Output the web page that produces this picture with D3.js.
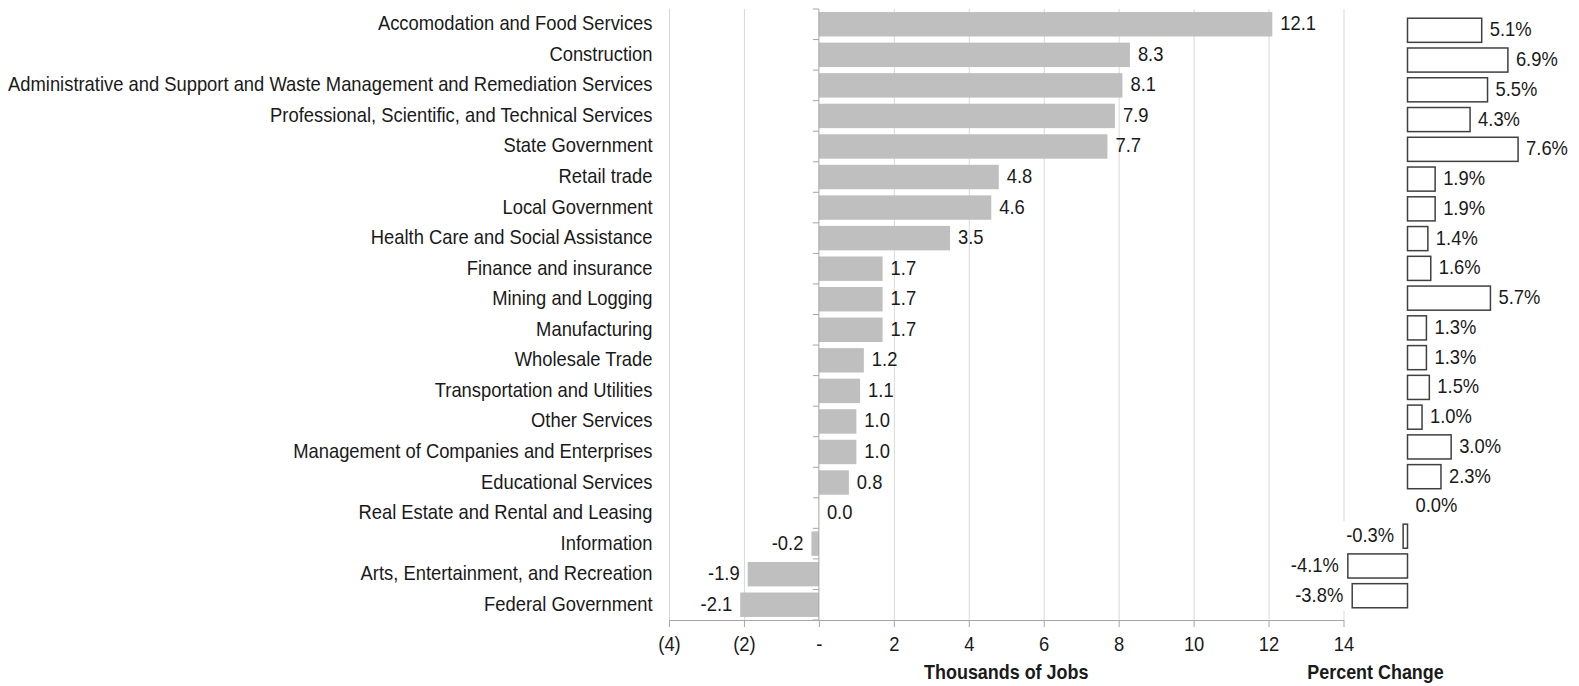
<!DOCTYPE html>
<html><head><meta charset="utf-8">
<script src="https://cdn.jsdelivr.net/npm/d3@7"></script>
<style>
html,body{margin:0;padding:0;background:#fff;}
svg{display:block;}
text{font-family:"Liberation Sans",Arial,sans-serif;fill:#1a1a1a;}
</style></head><body>
<svg id="chart" width="1579" height="686"></svg>
<script>
const categories = [
  "Accomodation and Food Services",
  "Construction",
  "Administrative and Support and Waste Management and Remediation Services",
  "Professional, Scientific, and Technical Services",
  "State Government",
  "Retail trade",
  "Local Government",
  "Health Care and Social Assistance",
  "Finance and insurance",
  "Mining and Logging",
  "Manufacturing",
  "Wholesale Trade",
  "Transportation and Utilities",
  "Other Services",
  "Management of Companies and Enterprises",
  "Educational Services",
  "Real Estate and Rental and Leasing",
  "Information",
  "Arts, Entertainment, and Recreation",
  "Federal Government"
];
const jobs = [12.1, 8.3, 8.1, 7.9, 7.7, 4.8, 4.6, 3.5, 1.7, 1.7, 1.7, 1.2, 1.1, 1.0, 1.0, 0.8, 0.0, -0.2, -1.9, -2.1];
const pctChange = [5.1, 6.9, 5.5, 4.3, 7.6, 1.9, 1.9, 1.4, 1.6, 5.7, 1.3, 1.3, 1.5, 1.0, 3.0, 2.3, 0.0, -0.3, -4.1, -3.8];
const jobTicks = [-4, -2, 0, 2, 4, 6, 8, 10, 12, 14];
const jobTickLabels = ["(4)", "(2)", "-", "2", "4", "6", "8", "10", "12", "14"];
const jobsTitle = "Thousands of Jobs";
const pctTitle = "Percent Change";

const FS = 21, SX = 0.875, BASE = 6;
const svg = d3.select("#chart");
const plotTop = 9, plotBottom = 620;
const fmt = v => v.toFixed(1);

const x = d3.scaleLinear().domain([-4, 14]).range([669, 1343.5]);
const y = d3.scaleBand().domain(categories).range([plotTop, plotBottom]).paddingInner(0.2).paddingOuter(0.1);
const xp = d3.scaleLinear().domain([-5, 8]).range([1407.5 - 5 * 14.55, 1407.5 + 8 * 14.55]);
const yp = d3.scaleBand().domain(categories).range([15.4, 610.6]).paddingInner(0.19).paddingOuter(0.095);

function label(g, data, fx, fy, anchor, txt, opts = {}) {
  return g.selectAll(null).data(data).join("text")
    .attr("transform", (d, i) => `translate(${fx(d, i)},${fy(d, i)}) scale(${SX},1)`)
    .attr("text-anchor", typeof anchor === "function" ? (d, i) => anchor(d, i) : anchor)
    .attr("font-size", opts.size || FS)
    .attr("font-weight", opts.weight || null)
    .text(txt);
}

// gridlines
const grid = svg.append("g").attr("transform", `translate(0,${plotBottom})`)
  .call(d3.axisBottom(x).tickValues(jobTicks.filter(d => d !== 0)).tickSize(-(plotBottom - plotTop)).tickFormat(""));
grid.select(".domain").remove();
grid.selectAll("line").attr("stroke", "#d9d9d9").attr("stroke-width", 1);

// white backing of percent chart rows with negative values (hides grid behind)
const negRows = categories.filter((c, i) => pctChange[i] < 0);
svg.append("g").selectAll("rect").data(negRows).join("rect")
  .attr("x", xp(-5)).attr("width", xp(0) - xp(-5))
  .attr("y", c => yp(c) - yp.step() * yp.paddingInner() / 2)
  .attr("height", yp.step())
  .attr("fill", "#fff");

// x axis
const xAxis = svg.append("g").attr("transform", `translate(0,${plotBottom})`)
  .call(d3.axisBottom(x).tickValues(jobTicks).tickFormat((d, i) => jobTickLabels[i]).tickSize(7).tickSizeOuter(0));
xAxis.select(".domain").attr("stroke", "#a6a6a6");
xAxis.selectAll("line").attr("stroke", "#a6a6a6");
xAxis.selectAll("text").attr("font-size", FS).attr("fill", "#1a1a1a").attr("font-family", null)
  .attr("dy", null).attr("y", 31.5).attr("transform", `scale(${SX},1)`);

// bars
svg.append("g").selectAll("rect").data(categories).join("rect")
  .attr("x", (c, i) => x(Math.min(0, jobs[i])))
  .attr("width", (c, i) => Math.abs(x(jobs[i]) - x(0)))
  .attr("y", c => y(c))
  .attr("height", y.bandwidth())
  .attr("fill", "#bfbfbf");

// category axis at zero
const cat = svg.append("g");
cat.append("line").attr("x1", x(0)).attr("x2", x(0)).attr("y1", plotTop).attr("y2", plotBottom)
  .attr("stroke", "#a6a6a6").attr("stroke-width", 1);
cat.selectAll("line.tk").data(d3.range(categories.length + 1)).join("line").attr("class", "tk")
  .attr("x1", x(0) - 6).attr("x2", x(0))
  .attr("y1", i => plotTop + i * y.step()).attr("y2", i => plotTop + i * y.step())
  .attr("stroke", "#a6a6a6");

// category labels
label(svg.append("g"), categories, () => 652.5, c => y(c) + y.bandwidth() / 2 + BASE, "end", c => c);

// job value labels
label(svg.append("g"), categories,
  (c, i) => jobs[i] < 0 ? x(jobs[i]) - 8 : x(jobs[i]) + 8,
  c => y(c) + y.bandwidth() / 2 + BASE,
  (c, i) => jobs[i] < 0 ? "end" : "start",
  (c, i) => fmt(jobs[i]));

// percent bars
svg.append("g").selectAll("rect").data(categories.filter((c, i) => pctChange[i] !== 0)).join("rect")
  .attr("x", c => xp(Math.min(0, pctChange[categories.indexOf(c)])))
  .attr("width", c => Math.abs(xp(pctChange[categories.indexOf(c)]) - xp(0)))
  .attr("y", c => yp(c))
  .attr("height", yp.bandwidth())
  .attr("fill", "#fff").attr("stroke", "#404040").attr("stroke-width", 1.5);

// percent labels
label(svg.append("g"), categories,
  (c, i) => pctChange[i] < 0 ? xp(pctChange[i]) - 9 : xp(pctChange[i]) + 8,
  c => yp(c) + yp.bandwidth() / 2 + BASE,
  (c, i) => pctChange[i] < 0 ? "end" : "start",
  (c, i) => fmt(pctChange[i]) + "%");

// titles
label(svg.append("g"), [jobsTitle], () => (x.range()[0] + x.range()[1]) / 2, () => 679, "middle", d => d, { size: 20.5, weight: "bold" });
label(svg.append("g"), [pctTitle], () => 1375.5, () => 679, "middle", d => d, { size: 20.5, weight: "bold" });
</script>
</body></html>
